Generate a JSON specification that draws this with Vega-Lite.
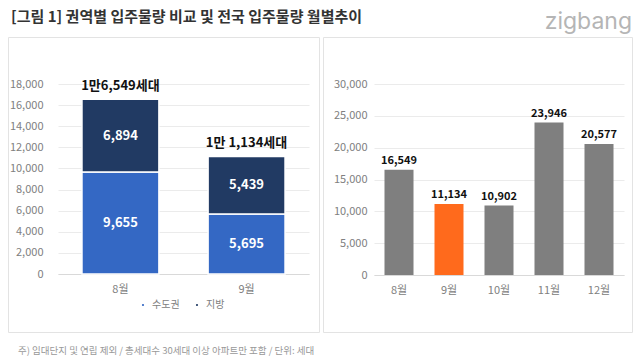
{
  "$schema": "https://vega.github.io/schema/vega-lite/v6.json",
  "padding": {"left": 7, "right": 9, "top": 9, "bottom": 2},
  "background": "#ffffff",
  "title": {
    "text": "[그림 1] 권역별 입주물량 비교 및 전국 입주물량 월별추이",
    "anchor": "start",
    "frame": "group",
    "font": "Noto Sans CJK KR",
    "fontSize": 15,
    "fontWeight": "bold",
    "color": "#333333",
    "dx": 3,
    "offset": -14
  },
  "datasets": {
    "region": [
      {"month": "8월", "구분": "수도권", "value": 9655},
      {"month": "8월", "구분": "지방", "value": 6894},
      {"month": "9월", "구분": "수도권", "value": 5695},
      {"month": "9월", "구분": "지방", "value": 5439}
    ],
    "totals": [
      {"month": "8월", "total": 16549, "label": "1만6,549세대"},
      {"month": "9월", "total": 11134, "label": "1만 1,134세대"}
    ],
    "monthly": [
      {"month": "8월", "value": 16549},
      {"month": "9월", "value": 11134},
      {"month": "10월", "value": 10902},
      {"month": "11월", "value": 23946},
      {"month": "12월", "value": 20577}
    ]
  },
  "bounds": "flush",
  "spacing": 4,
  "hconcat": [
    {
      "width": 311,
      "height": 295,
      "title": {
        "text": "주) 임대단지 및 연립 제외 / 총세대수 30세대 이상 아파트만 포함 / 단위: 세대",
        "orient": "bottom",
        "anchor": "start",
        "frame": "group",
        "font": "Noto Sans CJK KR",
        "fontSize": 9.5,
        "fontWeight": "normal",
        "color": "#999999",
        "dx": 10,
        "offset": 14
      },
      "layer": [
        {
          "data": {"name": "region"},
          "mark": {"type": "bar", "stroke": "#ffffff", "strokeWidth": 1.5},
          "encoding": {
            "x": {
              "field": "month", "type": "nominal", "sort": null,
              "scale": {"range": [50, 301], "paddingInner": 0.39, "paddingOuter": 0.19, "align": 0.5},
              "axis": {"title": null, "orient": "bottom", "offset": -58, "labelAngle": 0, "labelPadding": 9, "ticks": false, "domainColor": "#d9d9d9", "labelColor": "#808080", "labelFontSize": 11}
            },
            "y": {
              "field": "value", "type": "quantitative", "aggregate": "sum", "stack": "zero",
              "scale": {"domain": [0, 18000], "range": [237, 47], "nice": false},
              "axis": {"title": null, "offset": -38, "tickCount": 10, "format": ",d", "domain": false, "ticks": false, "labelPadding": 3, "gridColor": "#ebebeb", "labelColor": "#808080", "labelFontSize": 11}
            },
            "color": {
              "field": "구분", "type": "nominal",
              "scale": {"domain": ["수도권", "지방"], "range": ["#3468c4", "#213a63"]},
              "legend": {"title": null, "orient": "none", "direction": "horizontal", "legendX": 130, "legendY": 263, "symbolType": "circle", "symbolSize": 14, "labelFontSize": 10, "labelColor": "#808080", "columnPadding": 12, "labelOffset": 4}
            },
            "order": {"field": "구분", "type": "nominal", "sort": "ascending"}
          }
        },
        {
          "data": {"name": "region"},
          "mark": {"type": "text", "color": "#ffffff", "fontWeight": "bold", "fontSize": 13, "baseline": "middle"},
          "encoding": {
            "x": {"field": "month", "type": "nominal", "sort": null, "scale": {"range": [50, 301], "paddingInner": 0.39, "paddingOuter": 0.19, "align": 0.5}},
            "y": {"field": "value", "type": "quantitative", "aggregate": "sum", "stack": "zero", "bandPosition": 0.5},
            "detail": {"field": "구분", "type": "nominal"},
            "order": {"field": "구분", "type": "nominal", "sort": "ascending"},
            "text": {"field": "value", "type": "quantitative", "aggregate": "sum", "format": ","}
          }
        },
        {
          "data": {"name": "totals"},
          "mark": {"type": "text", "color": "#111111", "fontWeight": "bold", "fontSize": 13, "baseline": "middle", "dy": -13},
          "encoding": {
            "x": {"field": "month", "type": "nominal", "sort": null},
            "y": {"field": "total", "type": "quantitative"},
            "text": {"field": "label", "type": "nominal"}
          }
        }
      ]
    },
    {
      "width": 309,
      "height": 295,
      "title": {
        "text": "zigbang",
        "orient": "top",
        "anchor": "end",
        "frame": "group",
        "font": "Inter",
        "fontSize": 23,
        "fontWeight": "normal",
        "color": "#b5b5b5",
        "offset": 3
      },
      "data": {"name": "monthly"},
      "layer": [
        {
          "mark": {"type": "bar"},
          "encoding": {
            "x": {
              "field": "month", "type": "nominal", "sort": null,
              "scale": {"range": [51, 301], "paddingInner": 0.42, "paddingOuter": 0.21, "align": 0.5},
              "axis": {"title": null, "orient": "bottom", "offset": -57, "labelAngle": 0, "labelPadding": 9, "ticks": false, "domainColor": "#d9d9d9", "labelColor": "#808080", "labelFontSize": 11}
            },
            "y": {
              "field": "value", "type": "quantitative",
              "scale": {"domain": [0, 30000], "range": [238, 47], "nice": false},
              "axis": {"title": null, "offset": -47, "tickCount": 6, "format": ",d", "domain": false, "ticks": false, "labelPadding": 3, "gridColor": "#ebebeb", "labelColor": "#808080", "labelFontSize": 11}
            },
            "color": {
              "condition": {"test": "datum.month === '9월'", "value": "#ff6a1c"},
              "value": "#7f7f7f"
            }
          }
        },
        {
          "mark": {"type": "text", "color": "#111111", "fontWeight": "bold", "fontSize": 11, "baseline": "middle", "dy": -9},
          "encoding": {
            "x": {"field": "month", "type": "nominal", "sort": null},
            "y": {"field": "value", "type": "quantitative"},
            "text": {"field": "value", "type": "quantitative", "format": ","}
          }
        }
      ]
    }
  ],
  "config": {
    "font": "Noto Sans CJK KR",
    "view": {"stroke": "#e3e3e3", "strokeWidth": 1},
    "axis": {"labelFont": "Noto Sans CJK KR"},
    "legend": {"labelFont": "Noto Sans CJK KR"}
  }
}
